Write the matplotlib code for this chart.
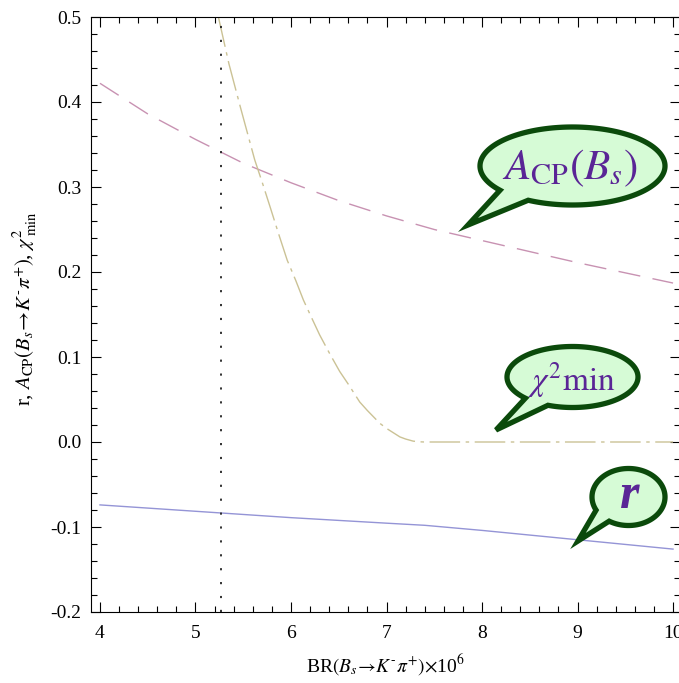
import numpy as np
import matplotlib
matplotlib.use("Agg")
import matplotlib.pyplot as plt
from matplotlib.patches import Polygon
from matplotlib.transforms import Affine2D
from matplotlib.ticker import MultipleLocator, FormatStrFormatter

plt.rcParams['font.family'] = ['Liberation Serif', 'DejaVu Serif']
plt.rcParams['mathtext.fontset'] = 'stix'
plt.rcParams['axes.unicode_minus'] = False

# A_CP(B_s) curve
br_acp = [4.0, 4.5, 5.0, 5.5, 6.0, 6.5, 7.0, 7.5, 8.0, 8.5, 9.0, 9.5, 10.0]
acp = [0.422, 0.386, 0.356, 0.328, 0.305, 0.284, 0.266, 0.250, 0.237, 0.224, 0.211, 0.199, 0.187]

# chi^2_min curve
br_chi2 = [5.24, 5.35, 5.47, 5.62, 5.70, 5.78, 5.87, 5.96, 6.05, 6.13, 6.20, 6.30, 6.40, 6.51,
           6.60, 6.72, 6.80, 6.93, 7.00, 7.14, 7.20, 7.28, 7.35, 7.40, 8.0, 9.0, 10.0]
chi2 = [0.50, 0.445, 0.394, 0.332, 0.305, 0.277, 0.245, 0.214, 0.190, 0.167, 0.150, 0.126, 0.105, 0.083,
        0.068, 0.047, 0.037, 0.022, 0.016, 0.006, 0.0035, 0.001, 0.0002, 0.0, 0.0, 0.0, 0.0]

# r curve
br_r = [4.0, 5.0, 6.0, 7.0, 7.4, 8.0, 9.0, 10.0]
r = [-0.074, -0.0815, -0.089, -0.0955, -0.098, -0.104, -0.115, -0.126]

br_exp = 5.27

# speech bubbles: label, center, semi-axes, tail base angles, tail tip (pixels)
bubbles = [
    (r'$A_{\mathrm{CP}}(B_s)$', (572.5, 166), (92.5, 39), (118.6, 141.6), (468, 225), 31, (570, 168), False),
    (r'$\chi^2\mathrm{min}$', (572.5, 377), (65.5, 30.5), (112, 136), (496, 430), 24, (572, 380), False),
    ('r', (628.5, 497), (36.5, 28.5), (122, 152.6), (578, 541), 36, (630, 496), True),
]

W, H = 679, 683
fig = plt.figure(figsize=(W / 100, H / 100), dpi=100)
ax = fig.add_axes([91 / W, 1 - 612 / H, (680 - 91) / W, (612 - 17) / H])

ax.plot(br_acp, acp, color='#c892b2', lw=1.0, dashes=(16, 9))
ax.plot(br_chi2, chi2, color='#cbc295', lw=1.0, dashes=(22, 4, 2.5, 4))
ax.plot(br_r, r, color='#9494d6', lw=1.0)
ax.axvline(br_exp, color='#222222', lw=1.3, dashes=(1.2, 6.5))

ax.set_xlim(3.906, 10.073)
ax.set_ylim(-0.2, 0.5)
ax.xaxis.set_major_locator(MultipleLocator(1))
ax.xaxis.set_minor_locator(MultipleLocator(0.2))
ax.yaxis.set_major_locator(MultipleLocator(0.1))
ax.yaxis.set_minor_locator(MultipleLocator(0.02))
ax.yaxis.set_major_formatter(FormatStrFormatter('%.1f'))
ax.tick_params(which='both', direction='in', top=True, right=True, width=0.8)
ax.tick_params(which='major', length=7)
ax.tick_params(which='minor', length=4)
ax.tick_params(axis='x', labelsize=14, pad=9)
ax.tick_params(axis='y', labelsize=14, pad=7)
for s in ax.spines.values():
    s.set_linewidth(0.8)

ax.set_xlabel(r'BR$(B_s\!\rightarrow\!K^{\text{-}}\pi^{+})$$\times$10$^6$', fontsize=14)
ax.set_ylabel(r'r, $A_{\mathrm{CP}}(B_s\!\rightarrow\!K^{\text{-}}\pi^{+})$, $\chi^2_{\ \mathrm{min}}$', fontsize=15)
ax.xaxis.set_label_coords(0.50, -0.068)
ax.yaxis.set_label_coords(-0.088, 0.51)

pix = Affine2D().scale(1 / W, -1 / H).translate(0, 1) + fig.transFigure


def bubble(label, center, axes, angles, tip, size, tpos, bold):
    cx, cy = center
    a, b = axes
    t = np.radians(np.linspace(angles[1], angles[0] + 360, 300))
    pts = np.column_stack([cx + a * np.cos(t), cy + b * np.sin(t)])
    pts = np.vstack([pts, tip])
    fig.add_artist(Polygon(pts, closed=True, transform=pix, facecolor='#d6fbd6',
                           edgecolor='#0b4a0b', lw=3.8, joinstyle='miter'))
    kw = dict(style='italic', weight='bold') if bold else {}
    fig.text(tpos[0], tpos[1], label, transform=pix, fontsize=size, color='#5a2596',
             ha='center', va='center', zorder=5, **kw)


for bb in bubbles:
    bubble(*bb)

fig.savefig('out.png', dpi=100)
